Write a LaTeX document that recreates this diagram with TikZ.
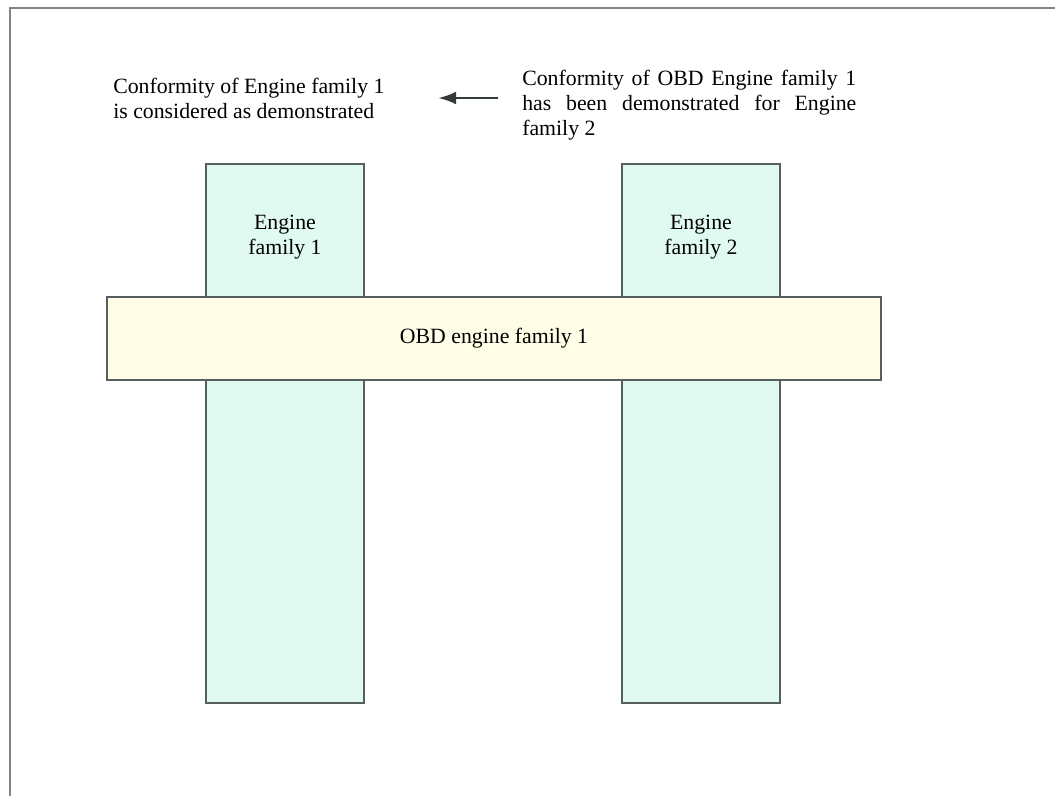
\documentclass[tikz,border=0pt]{standalone}
\usepackage{fontspec}
\setmainfont{Liberation Serif}
\usetikzlibrary{arrows.meta, positioning, calc}
\definecolor{colfill}{RGB}{224,250,242}
\definecolor{barfill}{RGB}{255,253,229}
\definecolor{edgegray}{RGB}{85,95,95}
\definecolor{framegray}{RGB}{125,135,135}
\definecolor{arrowgray}{RGB}{50,58,58}
\tikzset{
  famcol/.style={draw=edgegray, fill=colfill, line width=0.9pt,
    minimum width=3.95cm, minimum height=13.475cm, inner sep=0pt},
  obdbar/.style={draw=edgegray, fill=barfill, line width=0.9pt,
    minimum width=19.35cm, minimum height=2.075cm, inner sep=0pt},
  txt/.style={font=\fontsize{15.5}{17.8}\selectfont, inner sep=0pt},
  flowarrow/.style={-{Latex[length=0.45cm, width=0.32cm]}, line width=2pt, draw=arrowgray}
}

\begin{document}
\begin{tikzpicture}[x=0.025cm, y=-0.025cm]
    \useasboundingbox (0,0) rectangle (1055,796);
    % Frame
    \draw[framegray, line width=1.4pt] (10,796) -- (10,8) -- (1055,8);
    % Definitions
    \coordinate (Atail) at (498,98);
    \coordinate (Ahead) at (438,98);
    % Engine families
    \node[famcol] (fam1) at (285,433.5) {};
    \node[famcol] (fam2) at (701,433.5) {};
    \node[txt, align=center] (fam1txt) at (285,237) {Engine\\family 1};
    \node[txt, align=center] (fam2txt) at (701,237) {Engine\\family 2};
    % OBD family
    \node[obdbar] (obd) at (494,338.5) {};
    \node[txt] (obdtxt) at (obd.center) {OBD engine family 1};
    % Statements
    \node[txt, anchor=west, align=left] (conf1) at (113,98)
        {Conformity of Engine family 1\\is considered as demonstrated};
    \node[txt, anchor=west, align=justify, text width=8.35cm] (conf2) at (522,105)
        {Conformity of OBD Engine family~1\linebreak
         has been demonstrated for Engine\linebreak family 2};
    \draw[flowarrow] (Atail) -- (Ahead);
\end{tikzpicture}
\end{document}
